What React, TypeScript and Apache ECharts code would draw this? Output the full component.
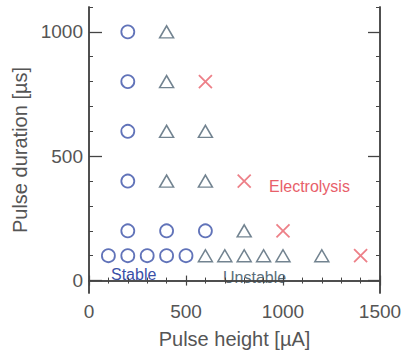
import React, { useEffect, useRef } from "react";
import * as echarts from "echarts";

const stable: [number, number][] = [
  [200, 1000], [200, 800], [200, 600], [200, 400], [200, 200], [400, 200], [600, 200],
  [100, 100], [200, 100], [300, 100], [400, 100], [500, 100],
];
const unstable: [number, number][] = [
  [400, 1000], [400, 800], [400, 600], [600, 600], [400, 400], [600, 400], [800, 200],
  [600, 100], [700, 100], [800, 100], [900, 100], [1000, 100], [1200, 100],
];
const electrolysis: [number, number][] = [
  [600, 800], [800, 400], [1000, 200], [1400, 100],
];
const yMajor = [0, 500, 1000];
const yMinor = [100, 200, 300, 400, 600, 700, 800, 900, 1100];

const BLUE = "#3a50a8";
const GRAY = "#4f6474";
const RED = "#e8606a";
const AX = "#444";
const FONT = "Liberation Sans, Arial, sans-serif";

export default function App() {
  const ref = useRef<HTMLDivElement>(null);
  useEffect(() => {
    document.body.style.margin = "0";
    const chart = echarts.init(ref.current!, null, { renderer: "svg" });
    const lineStyle = { color: AX, width: 1.5 };
    const baseY = {
      type: "value",
      min: -50,
      max: 1100,
      splitLine: { show: false },
      axisLine: { show: true, lineStyle },
    };
    const fmt = (v: number) => String(v);
    chart.setOption({
      animation: false,
      grid: { left: 89, top: 7, width: 291, height: 286, containLabel: false, outerBoundsMode: "none" },
      xAxis: [
        {
          type: "value", position: "bottom", min: 0, max: 1500, interval: 500,
          splitLine: { show: false },
          axisLine: { show: true, lineStyle },
          axisTick: { inside: true, length: 5, lineStyle: { color: AX, width: 1.2 } },
          minorTick: { show: true, splitNumber: 5, length: 3, lineStyle: { color: AX, width: 1 } },
          axisLabel: { color: "#555", fontSize: 19, fontFamily: FONT, margin: 9, formatter: fmt },
          name: "Pulse height [\u00b5A]", nameLocation: "middle", nameGap: 36,
          nameTextStyle: { color: "#555", fontSize: 20, fontFamily: FONT },
        },
        {
          type: "value", position: "top", min: 0, max: 1500, interval: 500,
          splitLine: { show: false },
          axisLine: { show: true, lineStyle },
          axisTick: { inside: true, length: 5, lineStyle: { color: AX, width: 1.2 } },
          minorTick: { show: true, splitNumber: 5, length: 3, lineStyle: { color: AX, width: 1 } },
          axisLabel: { show: false },
        },
      ],
      yAxis: [
        {
          ...baseY, position: "left",
          axisTick: { inside: true, length: 13, customValues: yMajor, lineStyle: { color: AX, width: 1.3 } },
          axisLabel: { color: "#555", fontSize: 19, fontFamily: FONT, margin: 6, customValues: yMajor, formatter: fmt },
          name: "Pulse duration [\u00b5s]", nameLocation: "middle", nameGap: 57,
          nameTextStyle: { color: "#555", fontSize: 20, fontFamily: FONT },
        },
        {
          ...baseY, position: "left",
          axisTick: { inside: true, length: 4, customValues: yMinor, lineStyle: { color: AX, width: 1 } },
          axisLabel: { show: false },
        },
        {
          ...baseY, position: "right",
          axisTick: { inside: true, length: 12, customValues: yMajor, lineStyle: { color: AX, width: 1.3 } },
          axisLabel: { show: false },
        },
        {
          ...baseY, position: "right",
          axisTick: { inside: true, length: 4, customValues: yMinor, lineStyle: { color: AX, width: 1 } },
          axisLabel: { show: false },
        },
      ],
      series: [
        {
          name: "Stable", type: "scatter", data: stable, symbol: "circle", symbolSize: 13,
          itemStyle: { color: "transparent", borderColor: BLUE, borderWidth: 1.8 },
        },
        {
          name: "Unstable", type: "scatter", data: unstable, symbol: "triangle", symbolSize: [14, 12],
          itemStyle: { color: "transparent", borderColor: GRAY, borderWidth: 1.5 },
        },
        {
          name: "Electrolysis", type: "scatter", data: electrolysis,
          symbol: "path://M0,0L10,10M10,0L0,10", symbolSize: 13,
          itemStyle: { color: "transparent", borderColor: RED, borderWidth: 1.8 },
        },
      ],
      graphic: [
        { type: "text", left: 111, top: 266, style: { text: "Stable", fill: BLUE, font: `16px ${FONT}` } },
        { type: "text", left: 223, top: 269, style: { text: "Unstable", fill: "#5a6e7a", font: `16px ${FONT}` } },
        { type: "text", left: 269, top: 178, style: { text: "Electrolysis", fill: RED, font: `16px ${FONT}` } },
      ],
    });
    return () => chart.dispose();
  }, []);
  return <div ref={ref} style={{ width: 403, height: 352 }} />;
}
